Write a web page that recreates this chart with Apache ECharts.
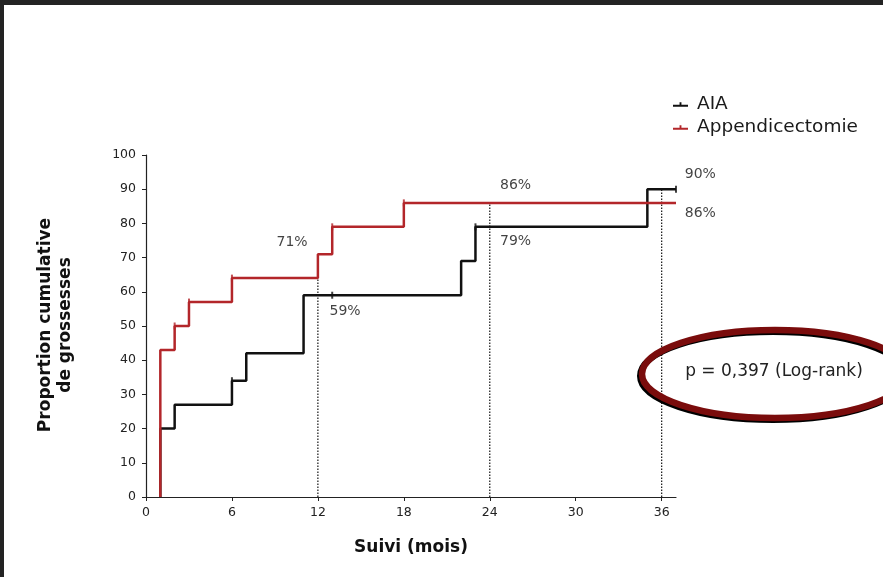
<!DOCTYPE html>
<html>
<head>
<meta charset="utf-8">
<script src="https://cdn.jsdelivr.net/npm/echarts@6/dist/echarts.min.js"></script>
<style>
html,body{margin:0;padding:0;background:#fff;}
#c{width:883px;height:577px;}
</style>
</head>
<body>
<div id="c"></div>
<script>
// ---- data ----
const xTicks = [0, 6, 12, 18, 24, 30, 36];
const yTicks = [0, 10, 20, 30, 40, 50, 60, 70, 80, 90, 100];
const aiaCurve = [[1,0],[1,20],[2,27],[6,34],[7,42],[11,59],[22,69],[23,79],[35,90],[37,90]];
const appCurve = [[1,0],[1,43],[2,50],[3,57],[6,64],[12,71],[13,79],[18,86],[37,86]];
const aiaCensor = [[13,59],[23,79],[6,34],[37,90]];
const appCensor = [[2,50],[3,57],[6,64],[13,79],[18,86]];
const dottedLines = [[[12,0],[12,64]],[[24,0],[24,86]],[[36,0],[36,90]]];
const pctLabels = [
  {value:[10.2,74.6], text:'71%'},
  {value:[13.9,54.4], text:'59%'},
  {value:[25.8,91.2], text:'86%'},
  {value:[25.8,74.8], text:'79%'},
  {value:[38.7,94.2], text:'90%'},
  {value:[38.7,83.0], text:'86%'}
];
const yTitle1 = 'Proportion cumulative';
const yTitle2 = 'de grossesses';
const xTitle = 'Suivi (mois)';
const pText = 'p = 0,397 (Log-rank)';

const BLACK = '#111111';
const RED = '#b3262a';
const FONT = 'DejaVu Sans';

const chart = echarts.init(document.getElementById('c'));

const series = [];
dottedLines.forEach(function(d){
  series.push({
    type:'line', data:d, symbol:'none', silent:true, z:1,
    lineStyle:{color:'#111', width:1.2, type:[1.5,1.5]}
  });
});
series.push({
  name:'AIA', type:'line', step:'end', data:aiaCurve, symbol:'none', z:3,
  lineStyle:{color:BLACK, width:2.5}, itemStyle:{color:BLACK}
});
series.push({
  name:'Appendicectomie', type:'line', step:'end', data:appCurve, symbol:'none', z:4,
  lineStyle:{color:RED, width:2.5}, itemStyle:{color:RED}
});
series.push({
  type:'scatter', data:aiaCensor, symbol:'rect', symbolSize:[2,7], z:3,
  itemStyle:{color:BLACK}, silent:true
});
series.push({
  type:'scatter', data:appCensor, symbol:'rect', symbolSize:[2,7], z:4,
  itemStyle:{color:RED}, silent:true
});
series.push({
  type:'scatter', clip:false, symbolSize:1, silent:true, z:5,
  itemStyle:{color:'rgba(0,0,0,0)'},
  data: pctLabels.map(function(p){ return {value:p.value, label:{formatter:p.text}}; }),
  label:{show:true, position:'inside', color:'#111', fontFamily:FONT, fontSize:14, align:'center', verticalAlign:'middle'}
});

const legendIcon = 'path://M0,4 L16,4 L16,6.2 L0,6.2 Z M7,1.5 L9,1.5 L9,6.2 L7,6.2 Z';

chart.setOption({
  animation:false,
  backgroundColor:'#ffffff',
  grid:{left:146, top:155, width:530, height:342, containLabel:false},
  legend:{
    orient:'vertical', left:668, top:90, itemGap:4, itemWidth:15, itemHeight:9,
    textStyle:{fontFamily:FONT, fontSize:18.5, color:'#1a1a1a', padding:[0,0,0,4]},
    data:[{name:'AIA', icon:legendIcon},{name:'Appendicectomie', icon:legendIcon}]
  },
  xAxis:{
    type:'value', min:0, max:37,
    name:xTitle, nameLocation:'middle', nameGap:42,
    nameTextStyle:{fontFamily:FONT, fontSize:17, fontWeight:'bold', color:'#111'},
    axisLine:{show:true, lineStyle:{color:'#222', width:1.2}},
    axisTick:{show:true, length:4, customValues:xTicks, lineStyle:{color:'#222'}},
    axisLabel:{customValues:xTicks, margin:9, fontFamily:FONT, fontSize:12.5, color:'#222'},
    splitLine:{show:false}
  },
  yAxis:{
    type:'value', min:0, max:100, interval:10,
    axisLine:{show:true, lineStyle:{color:'#222', width:1.2}},
    axisTick:{show:true, length:4, lineStyle:{color:'#222'}},
    axisLabel:{margin:10, fontFamily:FONT, fontSize:12.5, color:'#222'},
    splitLine:{show:false}
  },
  graphic:[
    {type:'rect', shape:{x:0,y:0,width:883,height:5}, style:{fill:'#232323'}, z:100},
    {type:'rect', shape:{x:0,y:0,width:4,height:577}, style:{fill:'#232323'}, z:100},
    {type:'text', x:46, y:325, rotation:Math.PI/2, z:50,
     style:{text:yTitle1, fontFamily:FONT, fontSize:17, fontWeight:'bold', fill:'#111', align:'center', verticalAlign:'middle'}},
    {type:'text', x:66, y:325, rotation:Math.PI/2, z:50,
     style:{text:yTitle2, fontFamily:FONT, fontSize:17, fontWeight:'bold', fill:'#111', align:'center', verticalAlign:'middle'}},
    {type:'ellipse', shape:{cx:773, cy:376, rx:133, ry:44}, z:60,
     style:{fill:'none', stroke:'#000', lineWidth:6}},
    {type:'ellipse', shape:{cx:775, cy:374, rx:133, ry:44}, z:61,
     style:{fill:'none', stroke:'#7a0c0c', lineWidth:6.5}},
    {type:'text', x:774, y:372, z:62,
     style:{text:pText, fontFamily:FONT, fontSize:17, fill:'#222', align:'center', verticalAlign:'middle'}}
  ],
  series:series
});
</script>
</body>
</html>
